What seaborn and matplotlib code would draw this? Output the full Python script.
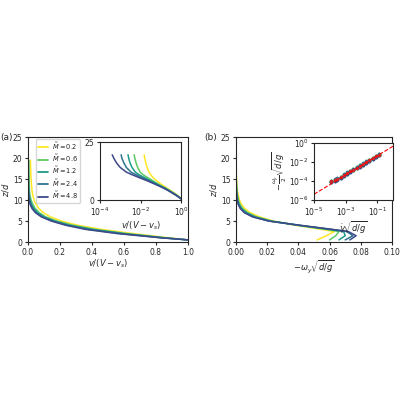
import numpy as np
import pandas as pd
import matplotlib
matplotlib.use("Agg")
import matplotlib.pyplot as plt
import seaborn as sns

sns.set_style("ticks")
plt.rcParams['font.family'] = ['DejaVu Sans']
plt.rcParams['font.size'] = 6

labels = [r"$\tilde{M}=0.2$", r"$\tilde{M}=0.6$", r"$\tilde{M}=1.2$", r"$\tilde{M}=2.4$", r"$\tilde{M}=4.8$"]
z = [0.5, 1, 2, 3, 4, 5, 6, 7, 8, 9, 10, 11, 12, 14, 16, 18, 19.5]
v_vals = [
    [1.0, 0.88, 0.66, 0.46, 0.31, 0.21, 0.14, 0.095, 0.068, 0.050, 0.038, 0.031, 0.026, 0.021, 0.018, 0.016, 0.015],
    [1.0, 0.86, 0.62, 0.42, 0.28, 0.18, 0.11, 0.070, 0.045, 0.030, 0.019, 0.013, 0.0095, 0.0072, 0.0060, 0.0052, 0.0048],
    [1.0, 0.85, 0.60, 0.40, 0.26, 0.165, 0.100, 0.060, 0.036, 0.022, 0.013, 0.0080, 0.0055, 0.0038, 0.0030, 0.0026, 0.0024],
    [1.0, 0.84, 0.58, 0.38, 0.245, 0.155, 0.090, 0.052, 0.030, 0.017, 0.0095, 0.0055, 0.0034, 0.0020, 0.0015, 0.0012, 0.0011],
    [1.0, 0.83, 0.56, 0.36, 0.235, 0.145, 0.083, 0.046, 0.025, 0.013, 0.0068, 0.0036, 0.0020, 0.0010, 0.00065, 0.00048, 0.00040],
]
zw = [0.5, 1.5, 2.5, 3, 4, 5, 6, 7, 8, 9, 10, 12, 14, 16, 19.5]
w_vals = [
    [0.052, 0.058, 0.063, 0.055, 0.038, 0.024, 0.015, 0.009, 0.0055, 0.0035, 0.0022, 0.0010, 0.0005, 0.0002, 0.0001],
    [0.060, 0.064, 0.066, 0.058, 0.039, 0.023, 0.013, 0.0075, 0.0042, 0.0025, 0.0015, 0.0006, 0.0003, 0.0001, 0.00005],
    [0.066, 0.070, 0.069, 0.060, 0.040, 0.022, 0.012, 0.0065, 0.0035, 0.0019, 0.0011, 0.0004, 0.0002, 0.0001, 0.00003],
    [0.070, 0.075, 0.071, 0.061, 0.040, 0.021, 0.0110, 0.0058, 0.0030, 0.0016, 0.0009, 0.0003, 0.0001, 0.00005, 0.00002],
    [0.073, 0.077, 0.072, 0.062, 0.041, 0.021, 0.0105, 0.0053, 0.0027, 0.0014, 0.0007, 0.0002, 0.0001, 0.00003, 0.00001],
]
gdot = [1.2e-4, 2e-4, 3e-4, 5e-4, 8e-4, 1.2e-3, 2e-3, 3e-3, 5e-3, 8e-3, 1.2e-2, 2e-2, 3e-2, 5e-2, 8e-2, 1.2e-1]
wy = [9e-5, 1.2e-4, 1.6e-4, 2.4e-4, 4.2e-4, 6.5e-4, 1.0e-3, 1.5e-3, 2.4e-3, 3.8e-3, 5.8e-3, 9.5e-3, 1.4e-2, 2.3e-2, 3.7e-2, 5.5e-2]
fit_x = [1e-5, 1.0]
fit_y = [4e-6, 0.45]

cmap = matplotlib.colormaps["viridis"]
colors = [cmap(p) for p in [1.0, 0.75, 0.55, 0.38, 0.22]]

dfv = pd.DataFrame([(l, vv, zz) for l, row in zip(labels, v_vals) for vv, zz in zip(row, z)], columns=["M", "v", "z"])
dfw = pd.DataFrame([(l, ww, zz) for l, row in zip(labels, w_vals) for ww, zz in zip(row, zw)], columns=["M", "w", "z"])

fig = plt.figure(figsize=(4, 4), dpi=100)
ax1 = fig.add_axes([0.07, 0.395, 0.40, 0.262])
ax2 = fig.add_axes([0.59, 0.395, 0.39, 0.262])
in1 = fig.add_axes([0.25, 0.50, 0.203, 0.145])
in2 = fig.add_axes([0.785, 0.50, 0.198, 0.143])

for ax in (ax1, in1):
    sns.lineplot(data=dfv, x="v", y="z", hue="M", hue_order=labels, palette=colors, sort=False,
                 estimator=None, units="M", lw=1.1, ax=ax, legend=(ax is ax1))
ax1.set_xlim(0, 1); ax1.set_ylim(0, 25)
ax1.set_xlabel(r"$v/(V-v_s)$", labelpad=1); ax1.set_ylabel(r"$z/d$", labelpad=1)
leg = ax1.legend(loc="upper left", fontsize=4.8, frameon=True, handlelength=1.6, title=None,
                 borderaxespad=0.2, bbox_to_anchor=(0.04, 1.0), labelspacing=0.15,
                 borderpad=0.3, handletextpad=0.5)
for h in leg.get_lines():
    h.set_linewidth(1.3)
in1.set_xscale("log"); in1.set_xlim(1e-4, 1); in1.set_ylim(0, 25)
in1.set_xticks([1e-4, 1e-2, 1]); in1.set_yticks([0, 25])
in1.set_xlabel(r"$v/(V-v_s)$", labelpad=1); in1.set_ylabel("")
in1.minorticks_off()

sns.lineplot(data=dfw, x="w", y="z", hue="M", hue_order=labels, palette=colors, sort=False,
             estimator=None, units="M", lw=1.1, ax=ax2, legend=False)
ax2.set_xlim(0, 0.1); ax2.set_ylim(0, 25)
ax2.set_xlabel(r"$-\omega_y\sqrt{d/g}$", labelpad=1); ax2.set_ylabel(r"$z/d$", labelpad=1)

for c, off in zip(colors, [1.0, 1.1, 0.9, 1.2, 0.85]):
    sns.scatterplot(x=gdot, y=[w * off for w in wy], color=c, s=6, edgecolor=None, ax=in2, legend=False)
sns.scatterplot(x=gdot, y=wy, color="#d62728", s=5, edgecolor=None, ax=in2, legend=False)
sns.lineplot(x=fit_x, y=fit_y, color="red", ls="--", lw=0.8, ax=in2)
in2.set_xscale("log"); in2.set_yscale("log")
in2.set_xlim(1e-5, 1); in2.set_ylim(1e-6, 1)
in2.set_xticks([1e-5, 1e-3, 1e-1]); in2.set_yticks([1e-6, 1e-4, 1e-2, 1])
in2.minorticks_off()
in2.set_xlabel(r"$\dot{\gamma}\sqrt{d/g}$", labelpad=1)
in2.set_ylabel(r"$-\frac{\omega_y}{2}\sqrt{d/g}$", labelpad=0)

for ax in (ax1, ax2, in1, in2):
    ax.tick_params(labelsize=5.5, length=2.5, pad=1.5)

fig.text(0.0, 0.65, "(a)", fontsize=6.5)
fig.text(0.51, 0.65, "(b)", fontsize=6.5)
fig.savefig("out.png", dpi=100)
